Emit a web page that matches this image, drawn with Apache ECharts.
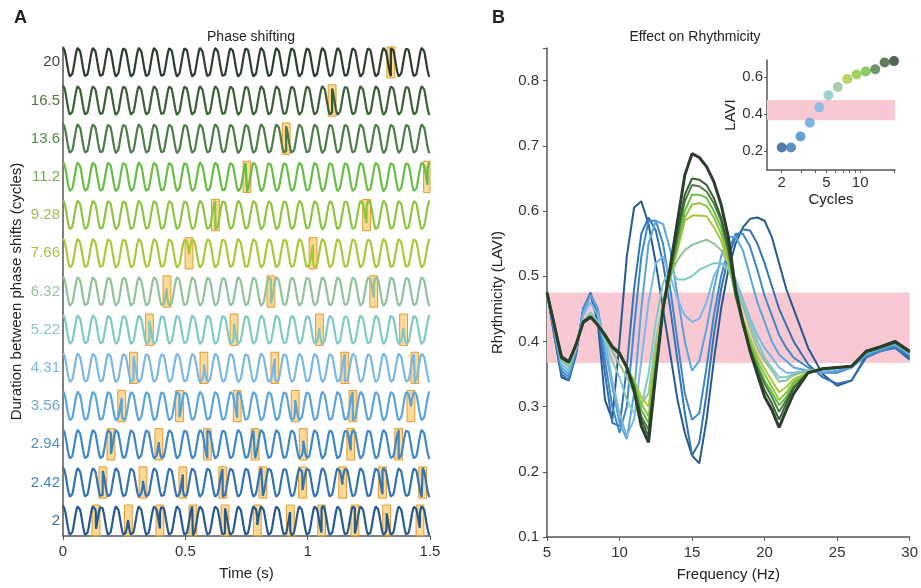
<!DOCTYPE html>
<html>
<head>
<meta charset="utf-8">
<script src="https://cdn.jsdelivr.net/npm/echarts@6/dist/echarts.min.js"></script>
<style>html,body{margin:0;background:#fff}#main{width:921px;height:588px}</style>
</head>
<body>
<div id="main"></div>
<script>
// ---- panel A: phase shifting ----
const rowLabels = ['2', '2.42', '2.94', '3.56', '4.31', '5.22', '6.32', '7.66', '9.28', '11.2', '13.6', '16.5', '20'];
const rowColors = ['#265a8e', '#3473b3', '#3f88c8', '#5aa5dc', '#7ab8e6', '#7fcac4', '#92c29a', '#a9c93a', '#8cc63f', '#68bd45', '#4b7d45', '#3a5f35', '#2a3e2b'];
const labelColors = ['#3a6a9a', '#3f7fbf', '#4a90c8', '#6aa8d8', '#7ab8e8', '#8ccac8', '#9cbf9c', '#a8bc40', '#9ac050', '#6ab04a', '#4f8a45', '#4a7a3a', '#3b4a3b'];
// times (s) of the phase shifts
const shiftTimes = [
    [0.135, 0.267, 0.396, 0.531, 0.662, 0.794, 0.929, 1.057, 1.193, 1.323, 1.459],
    [0.163, 0.327, 0.49, 0.653, 0.817, 0.979, 1.143, 1.306, 1.47],
    [0.196, 0.392, 0.59, 0.785, 0.982, 1.176, 1.372],
    [0.24, 0.476, 0.712, 0.949, 1.185, 1.422],
    [0.288, 0.576, 0.866, 1.152, 1.438],
    [0.353, 0.699, 1.048, 1.392],
    [0.425, 0.85, 1.27],
    [0.515, 1.022],
    [0.623, 1.241],
    [0.752, 1.49],
    [0.912],
    [1.10],
    [1.34]
];
const WAVE_HZ = 16;
const AMP = 0.39;
const BOX_HALF = 0.016;

// ---- panel B: effect on rhythmicity ----
const freqHz = [5, 5.5, 6, 6.5, 7, 7.5, 8, 8.5, 9, 9.5, 10, 10.5, 11, 11.5, 12, 12.5, 13, 13.5, 14, 14.5, 15,
    15.5, 16, 16.5, 17, 17.5, 18, 18.5, 19, 19.5, 20, 20.5, 21, 21.5, 22, 23, 24, 25, 26, 27, 28, 29, 30];
const lavi2 = [0.475,0.41,0.345,0.34,0.38,0.45,0.472,0.43,0.31, 0.28,0.4,0.53,0.605,0.615,0.58, 0.52,0.45,0.38,0.31,0.26,0.225, 0.213,0.28,0.37,0.45,0.51,0.55, 0.575,0.588,0.59,0.585,0.56,0.52, 0.48,0.45, 0.39,0.35,0.332,0.34,0.378,0.388,0.392,0.375];
const lavi242 = [0.475,0.41,0.35,0.34,0.38,0.45,0.475,0.44,0.35, 0.275,0.27,0.36,0.48,0.565,0.59, 0.57,0.52,0.45,0.37,0.29,0.225, 0.245,0.32,0.41,0.48,0.53,0.56, 0.572,0.57,0.55,0.52,0.485,0.45, 0.425,0.4, 0.365,0.345,0.335,0.34,0.375,0.385,0.39,0.372];
const lavi294 = [0.475,0.415,0.355,0.345,0.385,0.45,0.472,0.45,0.37, 0.3,0.26,0.3,0.42,0.53,0.585, 0.585,0.55,0.48,0.4,0.32,0.28, 0.29,0.36,0.44,0.5,0.54,0.565, 0.565,0.545,0.51,0.47,0.44,0.41, 0.39,0.375, 0.36,0.352,0.352,0.36,0.378,0.385,0.392,0.378];
const lavi356 = [0.475,0.42,0.36,0.35,0.39,0.445,0.47,0.45,0.39, 0.33,0.275,0.25,0.32,0.45,0.55, 0.585,0.58,0.54,0.47,0.4,0.355, 0.37,0.42,0.48,0.53,0.56,0.56, 0.54,0.5,0.46,0.43,0.4,0.38, 0.37,0.36, 0.355,0.352,0.355,0.36,0.38,0.388,0.395,0.38];
const lavi431 = [0.475,0.42,0.365,0.355,0.39,0.44,0.46,0.44,0.4, 0.34,0.29,0.255,0.28,0.37,0.46, 0.52,0.53,0.5,0.465,0.44,0.43, 0.435,0.46,0.5,0.52,0.515,0.495, 0.465,0.435,0.41,0.39,0.375,0.36, 0.352,0.352, 0.355,0.355,0.358,0.362,0.382,0.39,0.397,0.382];
const lavi522 = [0.475,0.425,0.37,0.36,0.39,0.43,0.445,0.43,0.4, 0.37,0.345,0.31,0.29,0.3,0.35, 0.43,0.49,0.51,0.495,0.495,0.5, 0.51,0.515,0.52,0.52,0.51,0.485, 0.46,0.43,0.4,0.375,0.36,0.345, 0.345,0.35, 0.355,0.357,0.36,0.362,0.383,0.39,0.398,0.383];
const lavi632 = [0.475,0.425,0.372,0.362,0.392,0.43,0.44,0.428,0.405, 0.385,0.365,0.345,0.32,0.305,0.32, 0.4,0.46,0.5,0.525,0.54,0.548, 0.552,0.556,0.55,0.54,0.52,0.485, 0.455,0.42,0.39,0.37,0.355,0.338, 0.34,0.348, 0.355,0.357,0.36,0.362,0.384,0.391,0.399,0.384];
const lavi766 = [0.475,0.425,0.375,0.367,0.394,0.43,0.438,0.425,0.408, 0.392,0.38,0.36,0.34,0.315,0.3, 0.38,0.45,0.5,0.54,0.585,0.593, 0.593,0.592,0.575,0.555,0.52,0.47, 0.435,0.405,0.378,0.358,0.34,0.322, 0.33,0.342, 0.352,0.358,0.36,0.362,0.385,0.392,0.4,0.385];
const lavi928 = [0.475,0.425,0.375,0.368,0.395,0.43,0.438,0.425,0.408, 0.392,0.382,0.362,0.338,0.305,0.285, 0.375,0.45,0.5,0.545,0.59,0.61, 0.612,0.608,0.59,0.565,0.53,0.47, 0.43,0.4,0.37,0.35,0.33,0.31, 0.322,0.338, 0.352,0.358,0.36,0.362,0.385,0.392,0.4,0.385];
const lavi112 = [0.475,0.425,0.375,0.368,0.395,0.43,0.438,0.425,0.408, 0.392,0.382,0.362,0.335,0.295,0.275, 0.37,0.45,0.5,0.55,0.6,0.625, 0.625,0.62,0.6,0.575,0.535,0.47, 0.43,0.395,0.365,0.34,0.322,0.302, 0.315,0.335, 0.352,0.358,0.36,0.362,0.385,0.392,0.4,0.385];
const lavi136 = [0.475,0.426,0.376,0.369,0.395,0.429,0.437,0.425,0.408, 0.392,0.382,0.36,0.332,0.285,0.265, 0.36,0.45,0.505,0.56,0.615,0.64, 0.638,0.63,0.612,0.585,0.54,0.47, 0.425,0.39,0.36,0.335,0.315,0.292, 0.31,0.33, 0.352,0.358,0.36,0.362,0.384,0.391,0.399,0.384];
const lavi165 = [0.475,0.428,0.378,0.37,0.395,0.428,0.436,0.425,0.408, 0.39,0.38,0.36,0.33,0.28,0.255, 0.355,0.45,0.51,0.57,0.625,0.65, 0.648,0.64,0.62,0.59,0.545,0.475, 0.425,0.385,0.355,0.325,0.305,0.28, 0.305,0.328, 0.352,0.358,0.36,0.362,0.383,0.39,0.398,0.383];
const lavi20 = [0.475,0.425,0.375,0.368,0.395,0.43,0.438,0.425,0.41, 0.392,0.382,0.36,0.325,0.27,0.245, 0.35,0.45,0.515,0.585,0.655,0.688, 0.682,0.668,0.645,0.61,0.56,0.48, 0.43,0.385,0.35,0.315,0.295,0.268, 0.295,0.32, 0.352,0.358,0.36,0.362,0.385,0.392,0.4,0.385];
const laviCurves = [lavi2, lavi242, lavi294, lavi356, lavi431, lavi522, lavi632, lavi766, lavi928, lavi112, lavi136, lavi165, lavi20];
const bandLow = 0.367, bandHigh = 0.475;

// inset: mean LAVI per duration
const insetCycles = [2, 2.42, 2.94, 3.56, 4.31, 5.22, 6.32, 7.66, 9.28, 11.2, 13.6, 16.5, 20];
const insetLavi = [0.221, 0.221, 0.28, 0.354, 0.436, 0.501, 0.545, 0.588, 0.612, 0.628, 0.64, 0.677, 0.684];
const insetTicks = [2, 3, 4, 5, 6, 7, 8, 9, 10, 20];
const insetLabels = [2, 5, 10];

const FONT = '"Liberation Sans", Arial, sans-serif';
const AX = '#555';

function buildWave(k) {
    const s = shiftTimes[k];
    const c = k + 0.4;
    const ts = [];
    for (let i = 0; i <= 750; i++) ts.push(i * 0.002);
    s.forEach(x => { ts.push(x - 1e-6); ts.push(x); });
    ts.sort((a, b) => a - b);
    return ts.filter(t => t >= 0 && t <= 1.5).map(t => {
        const n = s.filter(x => x <= t).length;
        return [t, c + AMP * Math.cos(2 * Math.PI * WAVE_HZ * t + Math.PI * n)];
    });
}

const series = [];
rowLabels.forEach((lab, k) => {
    series.push({
        type: 'line', xAxisIndex: 0, yAxisIndex: 0, showSymbol: false, symbol: 'none',
        data: buildWave(k), lineStyle: {color: rowColors[k], width: 2.2}, z: 3,
        markArea: {
            silent: true,
            itemStyle: {color: 'rgba(247,188,70,0.55)', borderColor: '#e39b2d', borderWidth: 1},
            data: shiftTimes[k].map(t => [
                {coord: [Math.max(0, t - BOX_HALF), k + 0.4 - 0.41]},
                {coord: [Math.min(1.5, t + BOX_HALF), k + 0.4 + 0.41]}
            ])
        }
    });
});

// pink band in panel B
series.push({
    type: 'line', xAxisIndex: 1, yAxisIndex: 1, data: [], z: 1,
    markArea: {silent: true, itemStyle: {color: '#f8c9d2'}, data: [[{yAxis: bandLow}, {yAxis: bandHigh}]]}
});
laviCurves.forEach((vals, k) => {
    series.push({
        type: 'line', xAxisIndex: 1, yAxisIndex: 1, showSymbol: false, symbol: 'none', z: 3,
        data: freqHz.map((f, i) => [f, vals[i]]),
        lineStyle: {color: rowColors[k], width: k === 12 ? 3 : 2}
    });
});

// inset
series.push({
    type: 'scatter', xAxisIndex: 2, yAxisIndex: 2, symbolSize: 10, z: 3,
    data: insetCycles.map((c, i) => ({value: [Math.log10(c), insetLavi[i]], itemStyle: {color: rowColors[i]}})),
    markArea: {silent: true, itemStyle: {color: '#f8c9d2'}, data: [[{yAxis: bandLow}, {yAxis: bandHigh}]]}
});

const tickLabel = {color: '#333', fontSize: 15, fontFamily: FONT};
const axisLine = {show: true, lineStyle: {color: AX, width: 1.5}};

const chart = echarts.init(document.getElementById('main'));
chart.setOption({
    animation: false,
    textStyle: {fontFamily: FONT},
    title: [
        {text: 'A', left: 9, top: 4, textStyle: {fontSize: 18, fontWeight: 'bold', color: '#222', fontFamily: FONT}},
        {text: 'B', left: 487, top: 4, textStyle: {fontSize: 18, fontWeight: 'bold', color: '#222', fontFamily: FONT}},
        {text: 'Phase shifting', left: 246, top: 25, textAlign: 'center', textStyle: {fontSize: 14, fontWeight: 'normal', color: '#222', fontFamily: FONT}},
        {text: 'Effect on Rhythmicity', left: 690, top: 25, textAlign: 'center', textStyle: {fontSize: 14, fontWeight: 'normal', color: '#222', fontFamily: FONT}}
    ],
    grid: [
        {left: 63, top: 47, width: 367, height: 489},
        {left: 547, top: 48, width: 366, height: 489},
        {left: 767, top: 60, width: 128, height: 110}
    ],
    xAxis: [
        {
            gridIndex: 0, type: 'value', min: 0, max: 1.5, interval: 0.5,
            name: 'Time (s)', nameLocation: 'middle', nameGap: 30,
            nameTextStyle: {fontSize: 15, color: '#222'},
            axisLine: axisLine, axisTick: {show: true, length: 4, lineStyle: {color: AX}},
            axisLabel: tickLabel, splitLine: {show: false}
        },
        {
            gridIndex: 1, type: 'value', min: 5, max: 30, interval: 5,
            name: 'Frequency (Hz)', nameLocation: 'middle', nameGap: 30,
            nameTextStyle: {fontSize: 15, color: '#222'},
            axisLine: axisLine, axisTick: {show: true, length: 4, lineStyle: {color: AX}},
            axisLabel: tickLabel, splitLine: {show: false}
        },
        {
            gridIndex: 2, type: 'value', min: 0.17, max: 1.31,
            name: 'Cycles', nameLocation: 'middle', nameGap: 22,
            nameTextStyle: {fontSize: 15, color: '#222'},
            axisLine: axisLine,
            axisTick: {show: true, length: 3, customValues: insetTicks.map(v => Math.log10(v)), lineStyle: {color: AX}},
            axisLabel: Object.assign({}, tickLabel, {margin: 5, customValues: insetLabels.map(v => Math.log10(v)),
                formatter: v => String(Math.round(Math.pow(10, v)))}),
            splitLine: {show: false}
        }
    ],
    yAxis: [
        {
            gridIndex: 0, type: 'value', min: 0, max: 12.8,
            name: 'Duration between phase shifts (cycles)', nameLocation: 'middle', nameGap: 39,
            nameTextStyle: {fontSize: 15, color: '#222'},
            axisLine: axisLine, axisTick: {show: false}, splitLine: {show: false},
            axisLabel: {
                fontSize: 15, fontFamily: FONT, margin: 3,
                customValues: rowLabels.map((l, k) => k + 0.4),
                formatter: v => rowLabels[Math.round(v - 0.4)],
                color: v => labelColors[Math.round(parseFloat(v) - 0.4)] || '#333'
            }
        },
        {
            gridIndex: 1, type: 'value', min: 0.1, max: 0.85, interval: 0.1,
            name: 'Rhythmicity (LAVI)', nameLocation: 'middle', nameGap: 42,
            nameTextStyle: {fontSize: 15, color: '#222'},
            axisLine: axisLine, axisTick: {show: true, length: 4, lineStyle: {color: AX}},
            axisLabel: Object.assign({}, tickLabel, {formatter: v => v > 0.82 ? '' : v.toFixed(1)}),
            splitLine: {show: false}
        },
        {
            gridIndex: 2, type: 'value', min: 0.1, max: 0.69,
            name: 'LAVI', nameLocation: 'middle', nameGap: 25,
            nameTextStyle: {fontSize: 15, color: '#222'},
            axisLine: axisLine,
            axisTick: {show: true, length: 3, customValues: [0.2, 0.4, 0.6], lineStyle: {color: AX}},
            axisLabel: Object.assign({}, tickLabel, {margin: 4, customValues: [0.2, 0.4, 0.6], formatter: v => v.toFixed(1)}),
            splitLine: {show: false}
        }
    ],
    series: series
});
</script>
</body>
</html>
